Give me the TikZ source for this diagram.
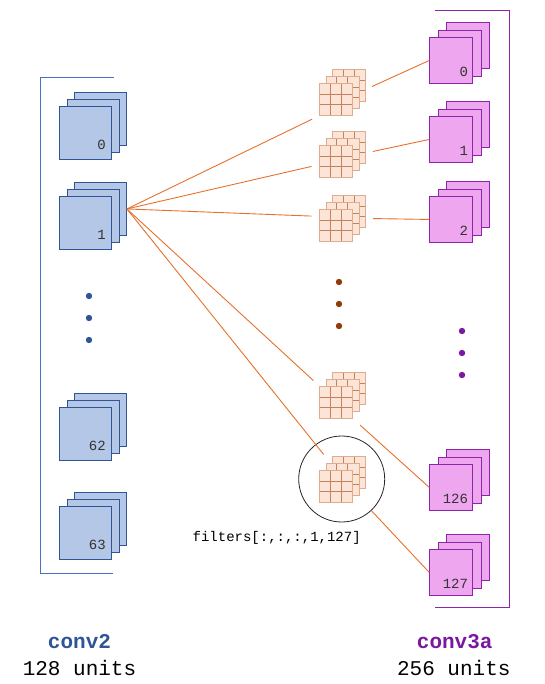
\documentclass[tikz,border=0pt]{standalone}
\usepackage{fontspec}
\setmonofont{Liberation Mono}
\definecolor{convblue}{RGB}{47, 85, 151}
\definecolor{bluefill}{RGB}{180, 199, 231}
\definecolor{bracketblue}{RGB}{68, 114, 196}
\definecolor{convpurple}{RGB}{123, 24, 160}
\definecolor{purplefill}{RGB}{238, 166, 238}
\definecolor{purpleedge}{RGB}{142, 36, 170}
\definecolor{filtfill}{RGB}{252, 228, 214}
\definecolor{filtedge}{RGB}{222, 172, 142}
\definecolor{filtgrid}{RGB}{196, 130, 92}
\definecolor{wireorange}{RGB}{230, 112, 44}
\definecolor{dotbrown}{RGB}{148, 58, 10}
\usepackage{tikz}
\usetikzlibrary{positioning, calc}

\begin{document}
\begin{tikzpicture}[x=1pt, y=-1pt,
  bluesq/.style={draw=convblue, fill=bluefill, line width=0.9pt, minimum width=52pt, minimum height=53pt, inner sep=0pt, anchor=north west},
  pinksq/.style={draw=purpleedge, fill=purplefill, line width=0.9pt, minimum width=43pt, minimum height=46pt, inner sep=0pt, anchor=north west},
  filtsq/.style={draw=filtedge, fill=filtfill, line width=0.7pt, minimum width=33pt, minimum height=32pt, inner sep=0pt, anchor=north west,
    path picture={
      \foreach \k in {1,2} {
        \draw[filtgrid, line width=0.8pt] ($(path picture bounding box.north west)!\k/3!(path picture bounding box.north east)$) -- ($(path picture bounding box.south west)!\k/3!(path picture bounding box.south east)$);
        \draw[filtgrid, line width=0.8pt] ($(path picture bounding box.north west)!\k/3!(path picture bounding box.south west)$) -- ($(path picture bounding box.north east)!\k/3!(path picture bounding box.south east)$);
      }}},
  wire/.style={wireorange, line width=0.9pt},
  unitlbl/.style={font=\ttfamily\fontsize{14}{16}\selectfont, text=black!80, inner sep=0pt},
  layername/.style={font=\ttfamily\bfseries\fontsize{21}{24}\selectfont, anchor=base, inner sep=0pt},
  layersize/.style={font=\ttfamily\fontsize{21}{24}\selectfont, anchor=base, inner sep=0pt}]
  \useasboundingbox (0,0) rectangle (544,684);

  % conv2 units
  \draw[bracketblue, line width=0.9pt] (114,77) -- (40,77) -- (40,573) -- (113,573);
  \foreach \n/\y in {0/106, 1/196, 62/407, 63/506} {
    \node[bluesq] (c2b\n) at (74, \y-14) {};
    \node[bluesq] (c2m\n) at (66.5, \y-7) {};
    \node[bluesq] (c2f\n) at (59, \y) {};
    \node[unitlbl, anchor=base east] (c2l\n) at ($(c2f\n.south east)+(-6,-10)$) {\n};
  }
  \foreach \y in {296, 318, 340}
    \fill[convblue] (89,\y) circle (3.2);

  % conv3a units
  \draw[purpleedge, line width=0.9pt] (435,10.7) -- (509,10.7) -- (509,607.3) -- (435,607.3);
  \foreach \n/\y in {0/37, 1/116, 2/196, 126/464, 127/549} {
    \node[pinksq] (c3b\n) at (446.3, \y-14.6) {};
    \node[pinksq] (c3m\n) at (437.8, \y-7.3) {};
    \node[pinksq] (c3f\n) at (429.3, \y) {};
    \node[unitlbl, anchor=base east] (c3l\n) at ($(c3f\n.south east)+(-5,-7.5)$) {\n};
  }
  \foreach \y in {331, 353, 375}
    \fill[convpurple] (462,\y) circle (3.2);

  % filters
  \foreach \i/\y in {0/83, 1/145, 2/209, 3/386, 4/470} {
    \node[filtsq] (fb\i) at (331.6, \y-14) {};
    \node[filtsq] (fm\i) at (325.5, \y-7) {};
    \node[filtsq] (f\i) at (319.3, \y) {};
  }
  \foreach \y in {282, 304, 326}
    \fill[dotbrown] (339,\y) circle (3.2);
  \node[draw=black!85, line width=0.8pt, circle, minimum size=86pt, inner sep=0pt] (ring) at (341.7,479) {};
  \node[unitlbl, text=black, anchor=base] (filtname) at (276.7,541.5) {filters[:,:,:,1,127]};

  % connections
  \foreach \t/\s in {f0.south west/8, f1.191/8, f2.152/8, f3.north west/8, f4.north/20}
    \draw[wire, shorten >=\s] (c2b1.east) -- (\t);
  \foreach \i in {0,1,2}
    \draw[wire, shorten <=14] (fm\i.east) -- (c3f\i.west);
  \draw[wire, shorten <=9.5] (f3.south east) -- (c3f126.west);
  \draw[wire] (ring) -- (c3f127.west);

  % layer names
  \node[layername, text=convblue] (c2name) at (79.5,648) {conv2};
  \node[layersize] (c2count) at (79.5,675) {128 units};
  \node[layername, text=convpurple] (c3name) at (454.7,648) {conv3a};
  \node[layersize] (c3count) at (453.8,675) {256 units};
\end{tikzpicture}
\end{document}
